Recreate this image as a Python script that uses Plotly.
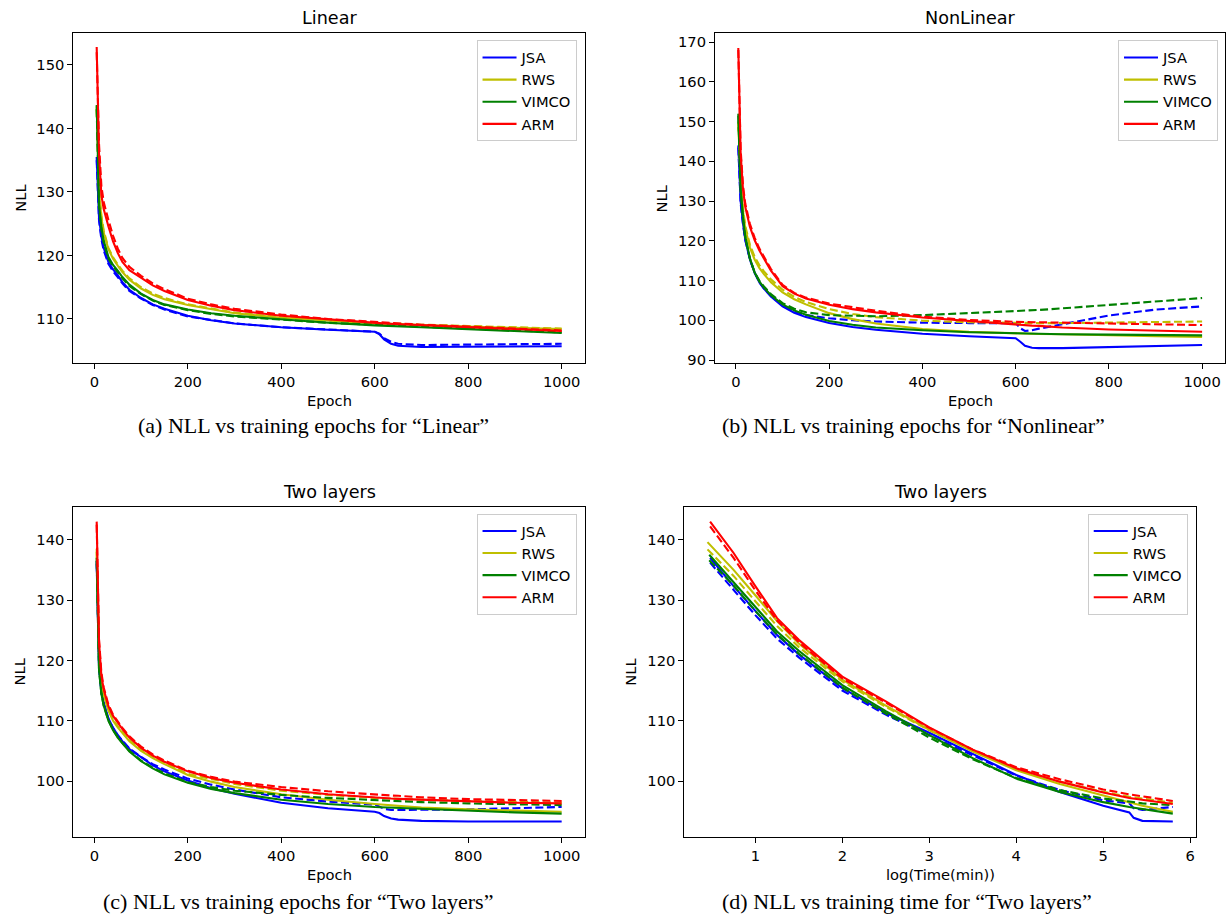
import plotly.graph_objects as go

W, H = 1227, 922

# ---------------- data ----------------
methods = ["JSA", "RWS", "VIMCO", "ARM"]
colors = {"JSA": "#0000ff", "RWS": "#bfbf00", "VIMCO": "#008000", "ARM": "#ff0000"}

epochs = [5, 8, 10, 15, 20, 30, 40, 50, 60, 75, 100, 125, 150, 200, 250, 300,
          400, 500, 600, 610, 620, 635, 650, 700, 800, 900, 1000]

# Linear (solid = train, dashed = test)
lin_jsa = [135.5, 128.0, 126.0, 123.0, 121.2, 119.0, 117.8, 116.9, 115.8, 114.6, 113.3, 112.3, 111.6, 110.5, 109.8, 109.3, 108.7, 108.3, 108.0, 107.6, 106.8, 106.1, 105.8, 105.6, 105.6, 105.6, 105.7]
lin_jsa_d = [135.0, 127.5, 125.5, 122.6, 120.8, 118.7, 117.5, 116.6, 115.6, 114.4, 113.2, 112.2, 111.5, 110.4, 109.8, 109.3, 108.7, 108.3, 108.0, 107.7, 107.0, 106.4, 106.1, 105.9, 106.0, 106.0, 106.1]
lin_rws = [143.5, 133.0, 130.0, 126.0, 123.6, 121.0, 119.5, 118.4, 117.4, 116.2, 114.8, 113.8, 113.1, 112.2, 111.5, 110.9, 110.2, 109.7, 109.3, 109.28, 109.25, 109.2, 109.15, 109.0, 108.8, 108.6, 108.4]
lin_rws_d = [143.0, 133.3, 130.3, 126.3, 123.9, 121.2, 119.7, 118.6, 117.6, 116.4, 115.0, 114.0, 113.3, 112.3, 111.6, 111.0, 110.3, 109.8, 109.4, 109.38, 109.35, 109.3, 109.25, 109.1, 108.9, 108.7, 108.5]
lin_vimco = [143.7, 131.0, 128.0, 124.5, 122.3, 119.8, 118.5, 117.6, 116.6, 115.4, 114.0, 113.0, 112.3, 111.5, 110.9, 110.5, 109.9, 109.4, 109.0, 108.98, 108.96, 108.93, 108.9, 108.7, 108.4, 108.1, 107.8]
lin_vimco_d = [143.0, 130.5, 127.6, 124.1, 122.0, 119.5, 118.3, 117.4, 116.4, 115.2, 113.9, 112.9, 112.2, 111.4, 110.8, 110.4, 109.9, 109.4, 109.1, 109.08, 109.06, 109.03, 109.0, 108.8, 108.5, 108.2, 107.9]
lin_arm = [152.8, 140.0, 136.0, 129.5, 127.3, 124.6, 122.2, 120.4, 119.0, 117.7, 116.5, 115.3, 114.4, 113.0, 112.1, 111.4, 110.5, 109.9, 109.4, 109.35, 109.3, 109.25, 109.2, 109.0, 108.7, 108.4, 108.1]
lin_arm_d = [152.0, 141.0, 137.5, 131.0, 128.4, 125.6, 123.1, 121.1, 119.6, 118.2, 116.8, 115.6, 114.7, 113.2, 112.3, 111.6, 110.7, 110.0, 109.5, 109.45, 109.4, 109.35, 109.3, 109.1, 108.8, 108.5, 108.2]

# NonLinear
non_jsa = [144.0, 134.0, 130.0, 124.5, 120.3, 115.3, 112.0, 109.6, 108.0, 106.0, 103.5, 101.9, 100.8, 99.3, 98.3, 97.6, 96.6, 96.0, 95.5, 94.6, 93.6, 93.1, 93.0, 93.0, 93.3, 93.6, 93.8]
non_jsa_d = [143.5, 133.5, 129.5, 124.2, 120.1, 115.3, 112.0, 109.6, 108.0, 106.1, 103.8, 102.2, 101.3, 100.5, 100.0, 99.7, 99.4, 99.3, 99.3, 98.0, 97.3, 97.5, 97.9, 99.0, 101.2, 102.7, 103.5]
non_rws = [150.0, 140.0, 135.0, 127.5, 123.0, 118.3, 115.3, 113.2, 111.6, 109.6, 107.0, 105.3, 104.0, 101.8, 100.3, 99.2, 97.8, 97.1, 96.7, 96.65, 96.6, 96.6, 96.55, 96.5, 96.2, 96.0, 95.8]
non_rws_d = [149.5, 140.5, 135.5, 128.2, 123.7, 119.0, 116.0, 113.9, 112.3, 110.3, 107.7, 105.9, 104.6, 102.8, 101.6, 100.8, 99.9, 99.5, 99.3, 99.3, 99.3, 99.3, 99.3, 99.3, 99.4, 99.6, 99.7]
non_vimco = [152.0, 138.0, 133.0, 126.0, 121.0, 115.5, 112.0, 109.8, 108.2, 106.3, 104.0, 102.5, 101.4, 99.8, 98.9, 98.2, 97.5, 97.0, 96.7, 96.68, 96.66, 96.63, 96.6, 96.5, 96.4, 96.3, 96.2]
non_vimco_d = [151.5, 137.5, 132.5, 125.8, 120.8, 115.5, 112.1, 110.0, 108.5, 106.6, 104.3, 102.9, 102.0, 101.3, 101.1, 101.0, 101.3, 101.8, 102.4, 102.45, 102.5, 102.55, 102.6, 103.0, 103.9, 104.8, 105.6]
non_arm = [168.5, 150.0, 142.0, 133.0, 128.5, 123.5, 120.2, 117.6, 115.5, 112.5, 108.6, 106.7, 105.5, 103.9, 102.8, 102.0, 100.7, 99.8, 98.8, 98.75, 98.7, 98.65, 98.6, 98.2, 97.7, 97.4, 97.1]
non_arm_d = [168.0, 151.0, 143.0, 134.0, 129.3, 124.2, 120.8, 118.1, 116.0, 112.9, 108.9, 106.9, 105.7, 104.2, 103.3, 102.4, 100.9, 100.1, 99.6, 99.58, 99.56, 99.53, 99.5, 99.5, 99.3, 99.0, 98.8]

# Two layers (epochs)
two_jsa = [136.5, 121.5, 119.0, 115.0, 113.0, 110.4, 108.8, 107.6, 106.6, 105.3, 103.9, 102.6, 101.6, 100.1, 98.8, 97.9, 96.4, 95.5, 94.9, 94.7, 94.2, 93.8, 93.6, 93.4, 93.3, 93.3, 93.3]
two_jsa_d = [136.0, 121.0, 118.6, 114.7, 112.8, 110.3, 108.8, 107.6, 106.7, 105.4, 104.0, 102.8, 101.9, 100.4, 99.4, 98.6, 97.3, 96.6, 96.1, 95.8, 95.4, 95.2, 95.2, 95.2, 95.3, 95.5, 95.7]
two_rws = [138.5, 124.0, 121.0, 116.5, 114.3, 111.7, 110.0, 108.9, 107.9, 106.6, 105.0, 103.8, 102.8, 101.0, 99.9, 99.0, 97.8, 96.9, 96.2, 96.15, 96.1, 96.0, 95.9, 95.6, 95.3, 95.1, 94.9]
two_rws_d = [138.0, 124.3, 121.3, 116.8, 114.6, 111.9, 110.2, 109.1, 108.1, 106.8, 105.2, 104.0, 103.0, 101.2, 100.3, 99.5, 98.4, 97.7, 97.2, 97.17, 97.14, 97.1, 97.05, 96.9, 96.7, 96.5, 96.4]
two_vimco = [137.0, 121.0, 118.5, 114.5, 112.5, 110.0, 108.4, 107.2, 106.2, 104.9, 103.3, 102.1, 101.1, 99.7, 98.7, 98.0, 96.9, 96.2, 95.7, 95.67, 95.64, 95.6, 95.55, 95.3, 95.0, 94.8, 94.6]
two_vimco_d = [136.5, 120.8, 118.4, 114.5, 112.5, 110.1, 108.5, 107.3, 106.3, 105.0, 103.4, 102.2, 101.3, 99.8, 99.0, 98.4, 97.7, 97.2, 96.8, 96.77, 96.74, 96.7, 96.65, 96.5, 96.3, 96.1, 96.0]
two_arm = [143.0, 128.0, 123.0, 117.5, 115.2, 112.4, 110.8, 109.7, 108.6, 107.2, 105.5, 104.2, 103.2, 101.6, 100.5, 99.7, 98.6, 97.8, 97.2, 97.17, 97.14, 97.1, 97.05, 96.9, 96.6, 96.4, 96.3]
two_arm_d = [142.5, 128.5, 123.5, 118.0, 115.5, 112.7, 111.0, 109.9, 108.8, 107.4, 105.7, 104.4, 103.4, 101.7, 100.7, 99.9, 99.0, 98.3, 97.7, 97.67, 97.64, 97.6, 97.55, 97.3, 97.0, 96.8, 96.7]

# Two layers (log time)
time_jsa = [0.48, 0.75, 1.0, 1.25, 1.5, 2.0, 2.5, 3.0, 3.5, 4.0, 4.5, 5.0, 5.3, 5.35, 5.45, 5.8]
time_rws = [0.45, 0.75, 1.0, 1.25, 1.5, 2.0, 2.5, 3.0, 3.5, 4.0, 4.5, 5.0, 5.3, 5.35, 5.45, 5.8]
time_vimco = [0.47, 0.75, 1.0, 1.25, 1.5, 2.0, 2.5, 3.0, 3.5, 4.0, 4.5, 5.0, 5.3, 5.35, 5.45, 5.8]
time_arm = [0.48, 0.75, 1.0, 1.25, 1.5, 2.0, 2.5, 3.0, 3.5, 4.0, 4.5, 5.0, 5.3, 5.35, 5.45, 5.8]
t_jsa = [137.0, 132.3, 128.2, 124.2, 121.0, 115.4, 111.3, 108.0, 104.5, 101.0, 98.2, 95.9, 94.8, 93.9, 93.4, 93.3]
t_jsa_d = [136.2, 131.6, 127.5, 123.6, 120.5, 115.0, 111.0, 107.6, 104.2, 100.9, 98.5, 96.8, 96.3, 95.5, 95.2, 95.7]
t_rws = [139.6, 135.0, 130.8, 126.5, 122.8, 116.8, 112.5, 108.5, 104.9, 101.8, 99.5, 97.6, 96.5, 96.3, 95.9, 94.9]
t_rws_d = [138.4, 134.0, 129.8, 125.7, 122.2, 116.5, 112.3, 108.4, 105.0, 102.0, 99.9, 98.2, 97.4, 97.3, 97.0, 96.4]
t_vimco = [137.5, 133.0, 128.9, 124.8, 121.6, 115.9, 111.6, 107.6, 103.8, 100.4, 98.2, 96.5, 95.7, 95.6, 95.3, 94.6]
t_vimco_d = [136.6, 132.4, 128.2, 124.3, 121.1, 115.5, 111.2, 107.2, 103.6, 100.5, 98.5, 97.1, 96.6, 96.5, 96.3, 96.0]
t_arm = [143.0, 137.8, 132.3, 127.0, 123.4, 117.3, 113.2, 108.9, 105.2, 102.1, 99.9, 98.1, 97.2, 97.1, 96.8, 96.2]
t_arm_d = [142.2, 137.0, 131.6, 126.6, 123.0, 117.0, 113.0, 108.8, 105.2, 102.3, 100.3, 98.6, 97.8, 97.7, 97.4, 96.7]

x_ticks_epoch = [0, 200, 400, 600, 800, 1000]
x_ticks_time = [1, 2, 3, 4, 5, 6]
y_ticks_a = [110, 120, 130, 140, 150]
y_ticks_b = [90, 100, 110, 120, 130, 140, 150, 160, 170]
y_ticks_c = [100, 110, 120, 130, 140]

titles = ["Linear", "NonLinear", "Two layers", "Two layers"]
xlabels = ["Epoch", "Epoch", "Epoch", "log(Time(min))"]
captions = ["(a) NLL vs training epochs for \u201cLinear\u201d",
            "(b) NLL vs training epochs for \u201cNonlinear\u201d",
            "(c) NLL vs training epochs for \u201cTwo layers\u201d",
            "(d) NLL vs training time for \u201cTwo layers\u201d"]

panels = [
    dict(x={m: epochs for m in methods},
         solid={"JSA": lin_jsa, "RWS": lin_rws, "VIMCO": lin_vimco, "ARM": lin_arm},
         dashed={"JSA": lin_jsa_d, "RWS": lin_rws_d, "VIMCO": lin_vimco_d, "ARM": lin_arm_d}),
    dict(x={m: epochs for m in methods},
         solid={"JSA": non_jsa, "RWS": non_rws, "VIMCO": non_vimco, "ARM": non_arm},
         dashed={"JSA": non_jsa_d, "RWS": non_rws_d, "VIMCO": non_vimco_d, "ARM": non_arm_d}),
    dict(x={m: epochs for m in methods},
         solid={"JSA": two_jsa, "RWS": two_rws, "VIMCO": two_vimco, "ARM": two_arm},
         dashed={"JSA": two_jsa_d, "RWS": two_rws_d, "VIMCO": two_vimco_d, "ARM": two_arm_d}),
    dict(x={"JSA": time_jsa, "RWS": time_rws, "VIMCO": time_vimco, "ARM": time_arm},
         solid={"JSA": t_jsa, "RWS": t_rws, "VIMCO": t_vimco, "ARM": t_arm},
         dashed={"JSA": t_jsa_d, "RWS": t_rws_d, "VIMCO": t_vimco_d, "ARM": t_arm_d}),
]

# ---------------- layout geometry (pixels) ----------------
boxes = [  # left, right, top, bottom
    (73.5, 585.4, 33.3, 365.0),
    (715.7, 1226.3, 33.3, 365.0),
    (73.5, 585.4, 509.3, 841.7),
    (685.0, 1197.0, 509.3, 841.7),
]
xranges = [[-44.75, 1049.75], [-44.75, 1049.75], [-44.75, 1049.75], [0.185, 6.067]]
yranges = [[103.07, 155.0], [89.25, 172.25], [90.7, 145.5], [90.7, 145.5]]
yticks = [y_ticks_a, y_ticks_b, y_ticks_c, y_ticks_c]
xticks = [x_ticks_epoch, x_ticks_epoch, x_ticks_epoch, x_ticks_time]
legend_pos = [(577, 40.7), (1219, 40.7), (577, 516.7), (1188.7, 516.7)]
nll_x = [19.6, 662.0, 19.6, 631.4]
caption_pos = [(314, 428), (914, 428), (298, 906), (908, 906)]


def px(x):
    return x / W


def py(y):
    return 1 - y / H


FONT = "DejaVu Sans"
fig = go.Figure()
lw = 2.1
for i, p in enumerate(panels):
    xa = "x" if i == 0 else f"x{i+1}"
    ya = "y" if i == 0 else f"y{i+1}"
    lg = "legend" if i == 0 else f"legend{i+1}"
    for m in methods:
        fig.add_trace(go.Scatter(x=p["x"][m], y=p["solid"][m], mode="lines", name=m,
                                 line=dict(color=colors[m], width=lw),
                                 xaxis=xa, yaxis=ya, legend=lg, legendgroup=f"{i}{m}",
                                 showlegend=True))
        fig.add_trace(go.Scatter(x=p["x"][m], y=p["dashed"][m], mode="lines", name=m + " (dashed)",
                                 line=dict(color=colors[m], width=lw, dash="8px,3.5px"),
                                 xaxis=xa, yaxis=ya, legend=lg, legendgroup=f"{i}{m}",
                                 showlegend=False))

layout = dict(width=W, height=H, margin=dict(l=0, r=0, t=0, b=0),
              paper_bgcolor="white", plot_bgcolor="white",
              font=dict(family=FONT, size=14.7, color="black"))
annotations = []
for i in range(4):
    l, r, t, b = boxes[i]
    sx = "" if i == 0 else str(i + 1)
    axis_common = dict(showline=True, mirror=True, linecolor="black", linewidth=1.2,
                       ticks="outside", ticklen=5, tickwidth=1.2, tickcolor="black",
                       showgrid=False, zeroline=False,
                       tickfont=dict(family=FONT, size=14.7, color="black"))
    layout["xaxis" + sx] = dict(domain=[px(l), px(r)], range=xranges[i],
                                anchor="y" + sx, tickmode="array", tickvals=xticks[i],
                                **axis_common)
    layout["yaxis" + sx] = dict(domain=[py(b), py(t)], range=yranges[i],
                                anchor="x" + sx, tickmode="array", tickvals=yticks[i],
                                **axis_common)
    lx, ly = legend_pos[i]
    layout["legend" if i == 0 else f"legend{i+1}"] = dict(
        x=px(lx), y=py(ly), xanchor="right", yanchor="top",
        bgcolor="rgba(255,255,255,0.8)", bordercolor="#cccccc", borderwidth=1,
        font=dict(family=FONT, size=14.7, color="black"),
        traceorder="grouped", tracegroupgap=0, itemwidth=34)
    cx = (l + r) / 2
    annotations.append(dict(text=titles[i], x=px(cx), y=py(t - 15), xref="paper", yref="paper",
                            showarrow=False, xanchor="center", yanchor="middle",
                            font=dict(family=FONT, size=17.6, color="black")))
    annotations.append(dict(text=xlabels[i], x=px(cx), y=py(b + 38), xref="paper", yref="paper",
                            showarrow=False, xanchor="center", yanchor="middle",
                            font=dict(family=FONT, size=14.7, color="black")))
    annotations.append(dict(text="NLL", x=px(nll_x[i]), y=py((t + b) / 2), xref="paper",
                            yref="paper", showarrow=False, textangle=-90,
                            xanchor="center", yanchor="middle",
                            font=dict(family=FONT, size=14.7, color="black")))
    cxp, cyp = caption_pos[i]
    annotations.append(dict(text=captions[i], x=px(cxp), y=py(cyp), xref="paper", yref="paper",
                            showarrow=False, xanchor="center", yanchor="middle",
                            font=dict(family="Liberation Serif", size=22, color="black")))
layout["annotations"] = annotations
fig.update_layout(**layout)
fig.write_html("out.html", config={"displayModeBar": False},
               post_script="document.body.style.margin='0';document.body.style.overflow='hidden';")
